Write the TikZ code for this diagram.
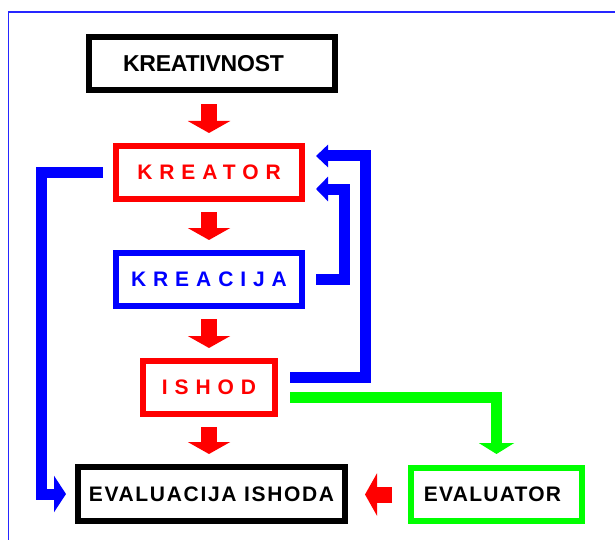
\documentclass[tikz,border=0pt]{standalone}
\usepackage{fontspec}
\setmainfont{Liberation Sans}
\usetikzlibrary{arrows.meta,calc}

\newcommand{\spaced}[1]{{\addfontfeature{LetterSpace=33}#1}}

\tikzset{
  box/.style={draw, line width=6pt, minimum height=53pt, inner sep=0pt,
    font=\fontsize{21}{21}\selectfont\bfseries},
  redarrow/.style={red, line width=16pt, -{Triangle[width=42pt,length=12pt]}},
  bluearrow/.style={blue, line width=11pt, -{Triangle[width=#1,length=12pt]}},
  greenarrow/.style={green, line width=11pt, -{Triangle[width=35pt,length=11pt]}}
}

\begin{document}
\begin{tikzpicture}[x=1pt, y=-1pt]

      \useasboundingbox (0,0) rectangle (615,540);
      \draw[blue!85, line width=1.3pt] (8.5,540) -- (8.5,12) -- (615,12);

      \node[box, minimum width=246pt, font=\fontsize{23}{23}\selectfont\bfseries] (kreativnost) at (212,64)
        {\addfontfeature{LetterSpace=-1}KREATIVNOST\kern17pt};
      \node[box, red, minimum width=186pt] (kreator) at (209,172.5) {\spaced{KREATOR}};
      \node[box, blue, minimum width=186pt] (kreacija) at (209,279.5) {\spaced{KREACIJA}};
      \node[box, red, minimum width=132pt] (ishod) at (209,387.5) {\spaced{ISHOD}};
      \node[box, minimum width=267pt, minimum height=54pt] (evalishoda) at (211.5,494)
        {\addfontfeature{LetterSpace=8}EVALUACIJA ISHODA};
      \node[box, green, text=black, minimum width=171pt] (evaluator) at (496.5,494.5)
        {\addfontfeature{LetterSpace=6}EVALUATOR\kern8pt};

      \coordinate (kin) at ($(kreator.east)+(0,-16.5)$);
      \coordinate (kin2) at ($(kreator.east)+(0,16.5)$);

      \draw[redarrow, shorten <=11pt, shorten >=10pt] (kreator.north |- kreativnost.south) -- (kreator.north);
      \draw[redarrow, shorten <=10pt, shorten >=10pt] (kreator.south) -- (kreacija.north);
      \draw[redarrow, shorten <=10pt, shorten >=10pt] (kreacija.south) -- (ishod.north);
      \draw[redarrow, shorten <=10pt, shorten >=10pt] (ishod.south) -- (ishod.south |- evalishoda.north);
      \draw[redarrow, shorten <=16pt, shorten >=17pt] (evaluator.west) -- (evaluator.west -| evalishoda.east);

      \draw[bluearrow=36pt, shorten <=10pt, shorten >=9pt] (kreator.west) -| (41,494) -- (evalishoda.west);
      \draw[bluearrow=24pt, shorten <=11pt, shorten >=11pt] (kreacija.east) -| ($(kin2)+(39,0)$) -- (kin2);
      \draw[bluearrow=22pt, shorten <=12pt, shorten >=11pt] ($(ishod.east)+(0,-10.5)$) -| ($(kin)+(60.5,0)$) -- (kin);

      \draw[greenarrow, shorten <=12pt, shorten >=11pt] ($(ishod.east)+(0,10)$) -| (evaluator.north);

\end{tikzpicture}
\end{document}
